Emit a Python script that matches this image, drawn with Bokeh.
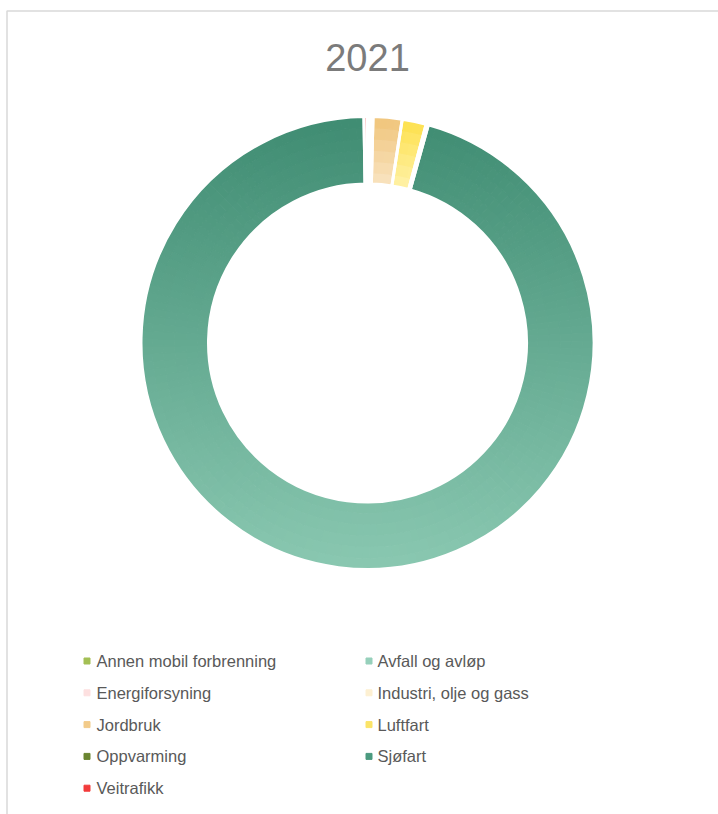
import math
import numpy as np
from bokeh.plotting import figure
from bokeh.models import ColumnDataSource, Range1d
from bokeh.embed import file_html
from bokeh.resources import INLINE
from bokeh.core.properties import value

# ---------------- data ----------------
chart_title = "2021"
sectors = [
    "Annen mobil forbrenning",
    "Avfall og avløp",
    "Energiforsyning",
    "Industri, olje og gass",
    "Jordbruk",
    "Luftfart",
    "Oppvarming",
    "Sjøfart",
    "Veitrafikk",
]
shares = [0.05, 0.08, 0.10, 0.16, 2.06, 1.72, 0.16, 95.42, 0.25]

# gradient colours of each slice (top -> bottom of the slice)
color_top = ["#9cb84a", "#8fcbb6", "#fbd6d6", "#fcebc4", "#f0c479", "#fde04a", "#6a8530", "#3f8c72", "#f03c3c"]
color_bottom = ["#c6da8e", "#bfe5d7", "#fdeeee", "#fef7e6", "#f9e4c2", "#fff2ab", "#9db660", "#8ac8b1", "#ff8a8a"]
legend_colors = ["#a3bf54", "#96d0bb", "#fde0e0", "#fdf0d2", "#f2cb8a", "#fbe468", "#6a8530", "#4b9a7f", "#f23b3b"]

# ---------------- layout ----------------
W, H = 718, 814
CX, CY_S = 367.0, 342.5          # centre of the ring, screen coordinates
R_OUT, R_IN = 226.5, 159.0
BORDER = 3
TEXT_COLOR = "#595959"
FONT = "Liberation Sans"


def sy(y_screen):
    return H - y_screen


def hex2rgb(h):
    h = h.lstrip("#")
    return tuple(int(h[i:i + 2], 16) for i in (0, 2, 4))


def lerp_color(c0, c1, t):
    a, b = hex2rgb(c0), hex2rgb(c1)
    return "#%02x%02x%02x" % tuple(int(round(a[i] + (b[i] - a[i]) * t)) for i in range(3))


p = figure(width=W, height=H, output_backend="svg", toolbar_location=None,
           x_range=Range1d(0, W), y_range=Range1d(0, H), min_border=0)
p.axis.visible = False
p.grid.visible = False
p.outline_line_color = None
p.background_fill_color = "white"
p.border_fill_color = "white"

# chart border (only top and left visible in the crop)
p.line(x=[6.5, 6.5, W + 5], y=[-5, sy(10.5), sy(10.5)], line_color="#d9d9d9", line_width=1.5)

# ---------------- doughnut ----------------
total = float(sum(shares))
fr = np.array(shares) / total
ends = np.cumsum(fr) * 2 * math.pi
starts = ends - fr * 2 * math.pi

pieces = dict(x=[], y=[], r0=[], r1=[], a0=[], a1=[], c=[])
n_r = 6
for i in range(len(sectors)):
    s, e = starts[i], ends[i]
    span = e - s
    if span <= 0:
        continue
    th = np.linspace(s, e, 300)
    ys = np.concatenate([CY_S - R_OUT * np.cos(th), CY_S - R_IN * np.cos(th)])
    ymin, ymax = ys.min(), ys.max()
    n_a = max(1, int(math.ceil(math.degrees(span) / 2.0)))
    for j in range(n_a):
        t0 = s + span * j / n_a
        t1 = s + span * (j + 1) / n_a
        tm = 0.5 * (t0 + t1)
        for k in range(n_r):
            r0 = R_IN + (R_OUT - R_IN) * k / n_r
            r1 = R_IN + (R_OUT - R_IN) * (k + 1) / n_r
            rm = 0.5 * (r0 + r1)
            ysc = CY_S - rm * math.cos(tm)
            t = 0.0 if ymax == ymin else (ysc - ymin) / (ymax - ymin)
            pieces["x"].append(CX)
            pieces["y"].append(sy(CY_S))
            pieces["r0"].append(r0)
            pieces["r1"].append(r1)
            pieces["a0"].append(math.pi / 2 - t0)
            pieces["a1"].append(math.pi / 2 - t1)
            pieces["c"].append(lerp_color(color_top[i], color_bottom[i], min(max(t, 0), 1)))

p.annular_wedge(x="x", y="y", inner_radius="r0", outer_radius="r1",
                start_angle="a0", end_angle="a1", direction="clock",
                fill_color="c", line_color="c", line_width=1,
                source=ColumnDataSource(pieces))

# white slice borders
borders = ColumnDataSource(dict(
    x=[CX] * len(sectors), y=[sy(CY_S)] * len(sectors),
    a0=list(math.pi / 2 - starts), a1=list(math.pi / 2 - ends)))
p.annular_wedge(x="x", y="y", inner_radius=R_IN, outer_radius=R_OUT,
                start_angle="a0", end_angle="a1", direction="clock",
                fill_alpha=0, line_color="white", line_width=BORDER, source=borders)

# ---------------- title ----------------
p.text(x=[CX], y=[sy(57)], text=[chart_title], text_font=value(FONT),
       text_font_size="38px", text_color="#7b7b7b", text_align="center",
       text_baseline="alphabetic")

# ---------------- legend ----------------
col_sq_x = [86.5, 368.5]
col_tx_x = [96.0, 377.0]
row0, drow = 660.5, 31.8
lx, ly, tx, ty = [], [], [], []
for i, name in enumerate(sectors):
    c, r = i % 2, i // 2
    lx.append(col_sq_x[c])
    ly.append(sy(row0 + r * drow))
    tx.append(col_tx_x[c])
    ty.append(sy(row0 + r * drow))

p.scatter(x=lx, y=ly, marker="square", size=6, fill_color=legend_colors,
          line_color=legend_colors)
p.text(x=tx, y=ty, text=sectors, text_font=value(FONT), text_font_size="16.5px",
       text_color=TEXT_COLOR, text_align="left", text_baseline="alphabetic")

open("out.html", "w").write(file_html(p, INLINE))
